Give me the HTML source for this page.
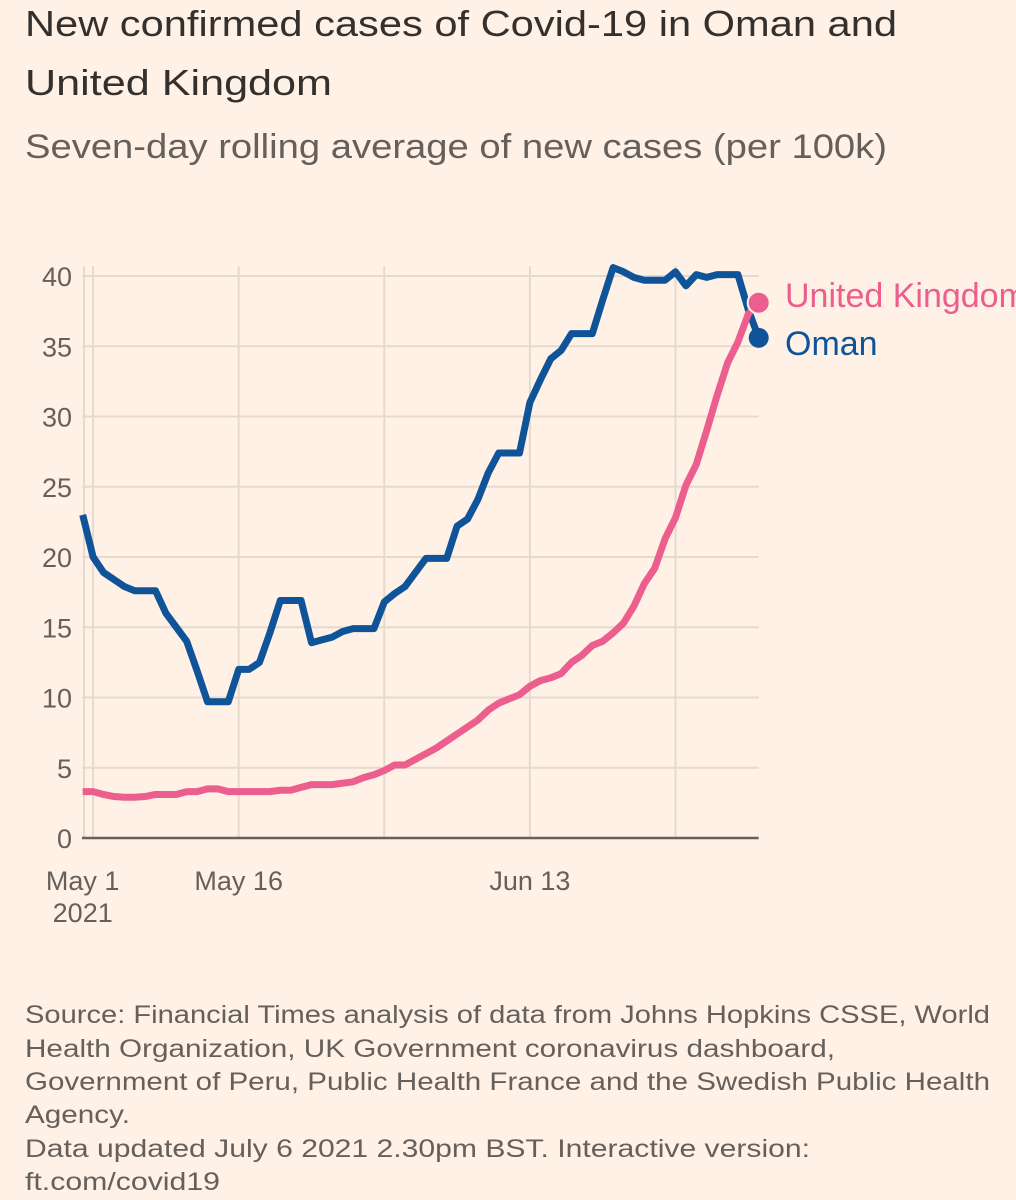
<!DOCTYPE html>
<html><head><meta charset="utf-8"><style>
html,body{margin:0;padding:0;background:#fff1e5;}
svg{display:block;font-family:"Liberation Sans",sans-serif;}
</style></head><body>
<svg id="chart" width="1016" height="1200" viewBox="0 0 1016 1200">
<rect width="1016" height="1200" fill="#fff1e5"/>
<text x="25" y="36" font-size="36" fill="#33302e" textLength="872" lengthAdjust="spacingAndGlyphs">New confirmed cases of Covid-19 in Oman and</text>
<text x="25" y="95" font-size="36" fill="#33302e" textLength="307" lengthAdjust="spacingAndGlyphs">United Kingdom</text>
<text x="25" y="158" font-size="34" fill="#66605c" textLength="862" lengthAdjust="spacingAndGlyphs">Seven-day rolling average of new cases (per 100k)</text>
<g id="grid"></g>
<g id="series"></g>
<g id="legend"></g>
<g font-size="25" fill="#66605c">
<text x="25" y="1023" textLength="965" lengthAdjust="spacingAndGlyphs">Source: Financial Times analysis of data from Johns Hopkins CSSE, World</text>
<text x="25" y="1057" textLength="810" lengthAdjust="spacingAndGlyphs">Health Organization, UK Government coronavirus dashboard,</text>
<text x="25" y="1090" textLength="965" lengthAdjust="spacingAndGlyphs">Government of Peru, Public Health France and the Swedish Public Health</text>
<text x="25" y="1123" textLength="105" lengthAdjust="spacingAndGlyphs">Agency.</text>
<text x="25" y="1157" textLength="785" lengthAdjust="spacingAndGlyphs">Data updated July 6 2021 2.30pm BST. Interactive version:</text>
<text x="25" y="1190" textLength="195" lengthAdjust="spacingAndGlyphs">ft.com/covid19</text>
</g>
</svg>
<script>
const omanValues = [23.0,20.0,18.9,18.4,17.9,17.6,17.6,17.6,16.0,15.0,14.0,11.9,9.7,9.7,9.7,12.0,12.0,12.5,14.6,16.9,16.9,16.9,13.9,14.1,14.3,14.7,14.9,14.9,14.9,16.8,17.4,17.9,18.9,19.9,19.9,19.9,22.2,22.7,24.1,26.0,27.4,27.4,27.4,31.0,32.6,34.1,34.7,35.9,35.9,35.9,38.3,40.6,40.3,39.9,39.7,39.7,39.7,40.3,39.3,40.1,39.9,40.1,40.1,40.1,37.6,35.6];
const ukValues = [3.3,3.3,3.1,2.95,2.9,2.9,2.95,3.1,3.1,3.1,3.3,3.3,3.5,3.5,3.3,3.3,3.3,3.3,3.3,3.4,3.4,3.6,3.8,3.8,3.8,3.9,4.0,4.3,4.5,4.8,5.2,5.2,5.6,6.0,6.4,6.9,7.4,7.9,8.4,9.1,9.6,9.9,10.2,10.8,11.2,11.4,11.7,12.5,13.0,13.7,14.0,14.6,15.3,16.5,18.1,19.2,21.3,22.8,25.1,26.6,29.0,31.5,33.8,35.3,37.3,38.1];
const yTicks = [0,5,10,15,20,25,30,35,40];
const xTickDays = [1,15,29,43,57];
const xLabels = [[0,"May 1","2021"],[15,"May 16",""],[43,"Jun 13",""]];
const seriesNames = ["United Kingdom","Oman"];

const NS="http://www.w3.org/2000/svg";
const X0=82.7, DX=10.4, Y0=838, DY=14.05;
const xs=d=>X0+d*DX, ys=v=>Y0-v*DY;
function mk(tag,attrs,parent,txt){const e=document.createElementNS(NS,tag);for(const k in attrs)e.setAttribute(k,attrs[k]);if(txt!==undefined)e.textContent=txt;parent.appendChild(e);return e;}
const grid=document.getElementById('grid'), series=document.getElementById('series'), legend=document.getElementById('legend');
const lastDay=omanValues.length-1;
yTicks.forEach(v=>{
  if(v>0){const l=mk('line',{x1:82,x2:xs(lastDay),y1:ys(v),y2:ys(v),stroke:'#e6d9ce','stroke-width':2},grid);
  
  }
  const t=mk('text',{x:72,y:ys(v)+10,'font-size':27,fill:'#66605c','text-anchor':'end'},grid,String(v));
  
  
});
mk('line',{x1:84,x2:84,y1:266,y2:838,stroke:'#e6d9ce','stroke-width':2},grid);
xTickDays.forEach(d=>{
  const l=mk('line',{x1:xs(d),x2:xs(d),y1:266,y2:838,stroke:'#e6d9ce','stroke-width':2},grid);
  
  
});
const ax=mk('line',{x1:82,x2:xs(lastDay),y1:Y0,y2:Y0,stroke:'#66605c','stroke-width':2.5},grid);


xLabels.forEach(([d,a,b])=>{
  const t=mk('text',{x:xs(d),y:890,'font-size':27,fill:'#66605c','text-anchor':'middle'},grid,a);
  
  
  if(b){const t2=mk('text',{x:xs(d),y:922,'font-size':27,fill:'#66605c','text-anchor':'middle'},grid,b);
  
  }
});
function line(vals,color,name){
  const p=mk('polyline',{points:vals.map((v,i)=>xs(i)+','+ys(v)).join(' '),fill:'none',stroke:color,'stroke-width':7,'stroke-linejoin':'round'},series);
  
  
}
line(omanValues,'#0f5499','oman-line');
line(ukValues,'#eb5e8d','uk-line');
const d1=mk('circle',{cx:xs(lastDay),cy:ys(omanValues[lastDay]),r:10,fill:'#0f5499'},series);


const d2=mk('circle',{cx:xs(lastDay),cy:ys(ukValues[lastDay]),r:11,fill:'#eb5e8d',stroke:'#fff1e5','stroke-width':2},series);


const l1=mk('text',{x:785,y:307,'font-size':34,fill:'#eb5e8d'},legend,seriesNames[0]);


const l2=mk('text',{x:785,y:355,'font-size':34,fill:'#0f5499'},legend,seriesNames[1]);


</script>
</body></html>
